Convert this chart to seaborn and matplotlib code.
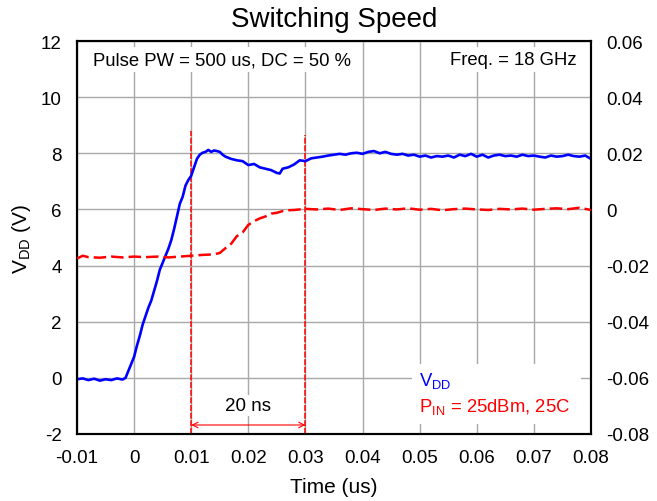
import matplotlib
matplotlib.use("Agg")
import matplotlib.pyplot as plt
import seaborn as sns
import pandas as pd
from matplotlib.patches import Rectangle

# ---------------- data ----------------
vdd_t = [-0.010, -0.009, -0.008, -0.007, -0.006, -0.005, -0.004, -0.003, -0.002, -0.0015,
         -0.001, -0.0005, 0.000, 0.0005, 0.001, 0.0015, 0.002, 0.0025, 0.003, 0.0035,
         0.004, 0.0045, 0.005, 0.0055, 0.006, 0.0065, 0.007, 0.0075, 0.008, 0.0085,
         0.009, 0.0095, 0.010, 0.0105, 0.011, 0.0115, 0.012, 0.0125, 0.013, 0.0135,
         0.014, 0.0145, 0.015, 0.0155, 0.016, 0.017, 0.018, 0.019, 0.020, 0.021,
         0.022, 0.023, 0.024, 0.025, 0.0255, 0.026, 0.027, 0.028, 0.029, 0.030,
         0.031, 0.032, 0.033, 0.034, 0.035, 0.036, 0.037, 0.038, 0.039, 0.040,
         0.041, 0.042, 0.043, 0.044, 0.045, 0.046, 0.047, 0.048, 0.049, 0.050,
         0.051, 0.052, 0.053, 0.054, 0.055, 0.056, 0.057, 0.058, 0.059, 0.060,
         0.061, 0.062, 0.063, 0.064, 0.065, 0.066, 0.067, 0.068, 0.069, 0.070,
         0.071, 0.072, 0.073, 0.074, 0.075, 0.076, 0.077, 0.078, 0.079, 0.080]
vdd_v = [-0.05, -0.02, -0.08, -0.03, -0.10, -0.05, -0.08, -0.02, -0.06, 0.00,
         0.25, 0.50, 0.75, 1.15, 1.50, 1.90, 2.20, 2.50, 2.75, 3.10,
         3.45, 3.85, 4.10, 4.35, 4.60, 4.90, 5.30, 5.75, 6.20, 6.45,
         6.85, 7.05, 7.20, 7.50, 7.80, 7.95, 8.02, 8.05, 8.12, 8.05,
         8.10, 8.08, 8.05, 7.95, 7.88, 7.80, 7.75, 7.72, 7.58, 7.62,
         7.50, 7.45, 7.40, 7.30, 7.28, 7.45, 7.50, 7.60, 7.75, 7.72,
         7.82, 7.85, 7.88, 7.92, 7.95, 7.98, 7.95, 8.00, 8.02, 7.98,
         8.05, 8.08, 8.00, 8.05, 7.98, 7.95, 7.98, 7.92, 7.95, 7.88,
         7.92, 7.85, 7.90, 7.88, 7.92, 7.85, 7.95, 7.90, 7.98, 7.88,
         7.95, 7.85, 7.92, 7.95, 7.90, 7.92, 7.88, 7.95, 7.90, 7.92,
         7.88, 7.85, 7.92, 7.88, 7.90, 7.95, 7.90, 7.88, 7.92, 7.80]

pin_t = [-0.010, -0.009, -0.008, -0.006, -0.004, -0.002, 0.000, 0.002, 0.004, 0.006,
         0.008, 0.010, 0.012, 0.014, 0.015, 0.016, 0.017, 0.018, 0.019, 0.020,
         0.021, 0.022, 0.023, 0.024, 0.025, 0.026, 0.027, 0.028, 0.029, 0.030,
         0.032, 0.034, 0.036, 0.038, 0.040, 0.042, 0.044, 0.046, 0.048, 0.050,
         0.052, 0.054, 0.056, 0.058, 0.060, 0.062, 0.064, 0.066, 0.068, 0.070,
         0.072, 0.074, 0.076, 0.078, 0.080]
pin_v = [-0.0175, -0.0165, -0.0170, -0.0172, -0.0168, -0.0171, -0.0168, -0.0170, -0.0168, -0.0171,
         -0.0168, -0.0165, -0.0162, -0.0160, -0.0155, -0.0138, -0.0122, -0.0095, -0.0082, -0.0055,
         -0.0042, -0.0032, -0.0025, -0.0015, -0.0012, -0.0006, -0.0003, -0.0002, 0.0000, 0.0002,
         0.0000, 0.0003, -0.0002, 0.0004, 0.0001, -0.0002, 0.0003, 0.0000, 0.0004, -0.0001,
         0.0002, -0.0003, 0.0001, 0.0003, 0.0000, -0.0002, 0.0002, 0.0000, 0.0003, -0.0001,
         0.0002, 0.0004, 0.0001, 0.0006, -0.0002]

x_ticks = [-0.01, 0, 0.01, 0.02, 0.03, 0.04, 0.05, 0.06, 0.07, 0.08]
x_tick_labels = ["-0.01", "0", "0.01", "0.02", "0.03", "0.04", "0.05", "0.06", "0.07", "0.08"]
y_ticks = [-2, 0, 2, 4, 6, 8, 10, 12]
y_tick_labels = ["-2", "0", "2", "4", "6", "8", "10", "12"]
y2_ticks = [-0.08, -0.06, -0.04, -0.02, 0, 0.02, 0.04, 0.06]
y2_tick_labels = ["-0.08", "-0.06", "-0.04", "-0.02", "0", "0.02", "0.04", "0.06"]
marker_times = [0.01, 0.03]
marker_tops = [8.8, 8.65]

# ---------------- style ----------------
sns.set_theme(style="white")
plt.rcParams["font.family"] = ["Liberation Sans", "DejaVu Sans"]
plt.rcParams["mathtext.fontset"] = "custom"
plt.rcParams["mathtext.rm"] = "Liberation Sans"
plt.rcParams["mathtext.it"] = "Liberation Sans"
plt.rcParams["mathtext.default"] = "regular"
plt.rcParams["axes.unicode_minus"] = False
plt.rcParams["text.color"] = "black"
plt.rcParams["axes.labelcolor"] = "black"
plt.rcParams["xtick.color"] = "black"
plt.rcParams["ytick.color"] = "black"

fig = plt.figure(figsize=(6.57, 5.02), dpi=100)
ax = fig.add_axes([0.1172, 0.1335, 0.7823, 0.7828])

df_vdd = pd.DataFrame({"t": vdd_t, "v": vdd_v})
df_pin = pd.DataFrame({"t": pin_t, "p": pin_v})

ax.set_xlim(-0.01, 0.08)
ax.set_ylim(-2, 12)
ax.set_xticks(x_ticks)
ax.set_xticklabels(x_tick_labels)
ax.set_yticks(y_ticks)
ax.set_yticklabels(y_tick_labels)
ax.grid(True, color="#a8a8a8", lw=1.0)
ax.set_axisbelow(True)

sns.lineplot(data=df_vdd, x="t", y="v", ax=ax, color="#0000ff", lw=1.9, zorder=5)

ax2 = ax.twinx()
sns.lineplot(data=df_pin, x="t", y="p", ax=ax2, color="#ff0000", lw=1.8,
             dashes=False, zorder=5)
ax2.lines[0].set_linestyle((0, (5, 2)))
ax2.set_ylim(-0.08, 0.06)
ax2.set_yticks(y2_ticks)
ax2.set_yticklabels(y2_tick_labels)
ax2.set_ylabel("")

for t, top in zip(marker_times, marker_tops):
    ax.plot([t, t], [-2, top], color="#ff0000", lw=1.1, ls=(0, (4, 1)), zorder=4)

ax.annotate("", xy=(0.01, -1.68), xytext=(0.03, -1.68),
            arrowprops=dict(arrowstyle="<->", color="#ff0000", lw=0.8,
                            shrinkA=0, shrinkB=0, mutation_scale=10), zorder=6)
ax.text(0.02, -1.0, "20 ns", ha="center", va="center", fontsize=13.5,
        bbox=dict(facecolor="white", edgecolor="none", pad=1.5), zorder=3)

ax.text(-0.0072, 11.34, "Pulse PW = 500 us, DC = 50 %", ha="left", va="center",
        fontsize=13.3, bbox=dict(facecolor="white", edgecolor="none", pad=3), zorder=3)
ax.text(0.0775, 11.34, "Freq. = 18 GHz", ha="right", va="center",
        fontsize=13.3, bbox=dict(facecolor="white", edgecolor="none", pad=3), zorder=3)

ax.add_patch(Rectangle((0.0487, -1.65), 0.0296, 2.15, facecolor="white",
                       edgecolor="none", zorder=2))
ax.text(0.0498, -0.07, "V$_{DD}$", color="#0000ff", ha="left", va="center",
        fontsize=13.3, zorder=3)
ax.text(0.0498, -1.0, "P$_{IN}$ = 25dBm, 25C", color="#ff0000", ha="left",
        va="center", fontsize=13.3, zorder=3)

ax.set_title("Switching Speed", fontsize=20, pad=11)
ax.set_xlabel("Time (us)", fontsize=15, labelpad=8)
ax.set_ylabel("V$_{DD}$ (V)", fontsize=15, labelpad=6)

for a in (ax, ax2):
    a.tick_params(axis="both", labelsize=13.5, direction="in", length=0, pad=11)
    for s in a.spines.values():
        s.set_color("black")
        s.set_linewidth(1.5)

fig.savefig("out.png", dpi=100, facecolor="white")
